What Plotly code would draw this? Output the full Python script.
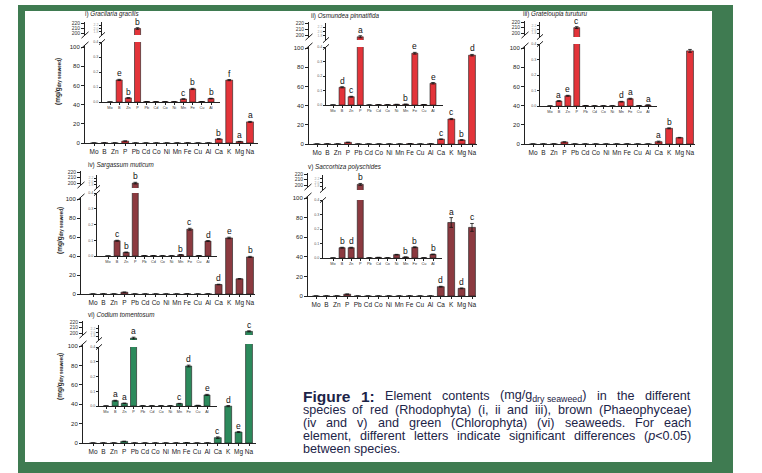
import plotly.graph_objects as go

W, H = 762, 473

# ---------------- data ----------------
elements = ["Mo", "B", "Zn", "P", "Pb", "Cd", "Co", "Ni", "Mn", "Fe", "Cu", "Al", "Ca", "K", "Mg", "Na"]
N_INSET = 12  # inset shows the first 12 elements

numerals = ["i)", "ii)", "iii)", "iv)", "v)", "vi)"]
species = ["Gracilaria gracilis", "Osmundea pinnatifida", "Grateloupia turuturu",
           "Sargassum muticum", "Saccorhiza polyschides", "Codium tomentosum"]

gracilaria = [0, 0.147, 0.027, 2.0, 0.003, 0.002, 0.002, 0.002, 0.020, 0.087, 0.003, 0.023, 4.2, 65.5, 1.5, 22.0]
gracilaria_err = [0, 0.004, 0.002, 0.05, 0, 0, 0, 0, 0.001, 0.004, 0, 0.002, 0.3, 0.6, 0.2, 0.5]
gracilaria_let = ["", "e", "b", "b", "", "", "", "", "c", "b", "", "b", "b", "f", "a", "a"]

osmundea = [0, 0.122, 0.057, 1.75, 0, 0.002, 0.002, 0.004, 0.005, 0.357, 0.003, 0.150, 5.0, 26.0, 4.2, 92.5]
osmundea_err = [0, 0.004, 0.003, 0.05, 0, 0, 0, 0, 0.001, 0.006, 0, 0.005, 0.3, 0.6, 0.3, 0.8]
osmundea_let = ["", "d", "c", "a", "", "", "", "", "b", "e", "", "e", "c", "c", "b", "d"]

grateloupia = [0, 0.032, 0.066, 2.1, 0.003, 0.001, 0.001, 0.001, 0.028, 0.047, 0.002, 0.006, 2.4, 16.3, 6.6, 97.0]
grateloupia_err = [0, 0.003, 0.003, 0.05, 0, 0, 0, 0, 0.002, 0.003, 0, 0.001, 0.6, 0.5, 0.3, 1.5]
grateloupia_let = ["", "a", "e", "c", "", "", "", "", "d", "a", "", "a", "a", "b", "", ""]

sargassum = [0, 0.097, 0.023, 1.9, 0.002, 0.002, 0.001, 0.001, 0.008, 0.170, 0.002, 0.095, 10.0, 59.0, 16.0, 39.0]
sargassum_err = [0, 0.003, 0.002, 0.05, 0, 0, 0, 0, 0.001, 0.006, 0, 0.003, 0.3, 0.8, 0.3, 0.6]
sargassum_let = ["", "c", "b", "b", "", "", "", "", "b", "c", "", "d", "d", "e", "", "b"]

saccorhiza = [0, 0.071, 0.071, 1.9, 0.001, 0.004, 0.001, 0.023, 0.006, 0.074, 0.001, 0.025, 9.5, 75.0, 7.8, 70.0]
saccorhiza_err = [0, 0.003, 0.003, 0.05, 0, 0, 0, 0.002, 0.001, 0.003, 0, 0.002, 0.4, 5.0, 0.4, 4.0]
saccorhiza_let = ["", "b", "d", "b", "", "", "", "", "b", "b", "", "b", "d", "a", "d", "c"]

codium = [0, 0.036, 0.018, 1.7, 0.001, 0.001, 0.001, 0.001, 0.016, 0.271, 0.004, 0.075, 5.5, 38.0, 11.3, 203.0]
codium_err = [0, 0.003, 0.002, 0.05, 0, 0, 0, 0, 0.002, 0.006, 0, 0.004, 0.8, 0.6, 0.5, 1.0]
codium_let = ["", "a", "a", "a", "", "", "", "", "c", "d", "", "e", "c", "d", "e", "c"]

main_ticks = [0, 20, 40, 60, 80, 100]
main_up_ticks = [200, 210, 220]
inset_ticks = [0.0, 0.1, 0.2, 0.3, 0.4]
inset_up_ticks = [1.8, 2.0, 2.2]
MAIN_LOW_MAX = 100
INSET_LOW_MAX = 0.4
INSET_UP_RANGE = [1.6, 2.4]

caption_lines = [
    [("Figure", "b"), ("1:", "b"), "Element", "contents", ("(mg/g", "sub:dry seaweed", ")"), "in", "the", "different"],
    "species of red (Rhodophyta) (i, ii and iii), brown (Phaeophyceae)".split(" "),
    "(iv and v) and green (Chlorophyta) (vi) seaweeds. For each".split(" "),
    "element, different letters indicate significant differences".split(" ") + [("(", "i:p", "<0.05)")],
    "between species.".split(" "),
]

RED, BROWN, GREEN = "#e3343a", "#8c3a40", "#2c8a5c"
FRAME = "#3f7b51"
TEXTC = "#1c2448"
FONT = "Liberation Sans, Arial, sans-serif"

series = [
    (gracilaria, gracilaria_err, gracilaria_let, RED),
    (osmundea, osmundea_err, osmundea_let, RED),
    (grateloupia, grateloupia_err, grateloupia_let, RED),
    (sargassum, sargassum_err, sargassum_let, BROWN),
    (saccorhiza, saccorhiza_err, saccorhiza_let, BROWN),
    (codium, codium_err, codium_let, GREEN),
]

# ---------------- geometry (pixels) ----------------
geometry = [
    dict(title=(84, 14), ylab=(58, 82),
         main=dict(ax=85, end=258, first=94, last=250, base=143, top=47, p200=33, p220=23),
         inset=dict(ax=102, end=220, first=110, last=211, base=102, top=42, ub=35, ut=22)),
    dict(title=(310, 16), ylab=None,
         main=dict(ax=309, end=477, first=317, last=472, base=144, top=48, p200=35, p220=23),
         inset=dict(ax=326, end=443, first=333, last=433, base=105, top=47, ub=40, ut=23)),
    dict(title=(522, 14), ylab=None,
         main=dict(ax=525, end=695, first=533, last=690, base=144, top=48, p200=33, p220=22),
         inset=dict(ax=540, end=657, first=550, last=648, base=106, top=44, ub=37, ut=22)),
    dict(title=(87, 165), ylab=(60, 231),
         main=dict(ax=81, end=255, first=93, last=250, base=294, top=199, p200=183, p220=172),
         inset=dict(ax=97, end=217, first=108, last=208, base=256, top=193, ub=188, ut=175)),
    dict(title=(307, 167), ylab=None,
         main=dict(ax=308, end=476, first=316, last=472, base=296, top=198, p200=185, p220=174),
         inset=dict(ax=323, end=442, first=333, last=433, base=258, top=200, ub=190, ut=175)),
    dict(title=(87, 315), ylab=(60, 377),
         main=dict(ax=83, end=256, first=93, last=249, base=443, top=346, p200=333, p220=322),
         inset=dict(ax=99, end=217, first=106, last=207, base=406, top=347, ub=340, ut=325)),
]


def fx(px):
    return px / W


def fy(py):
    return 1 - py / H


def axname(prefix, n):
    return prefix + "axis" + ("" if n == 1 else str(n))


def ref(prefix, n):
    return prefix + ("" if n == 1 else str(n))


fig = go.Figure()
layout = {}
shapes = []
annotations = []

# frame (four green bands)
for (x0, x1, y0, y1) in [(18, 733, 5, 11), (18, 733, 462, 473), (18, 25, 5, 473), (712, 733, 5, 473)]:
    shapes.append(dict(type="rect", xref="paper", yref="paper", x0=fx(x0), x1=fx(x1), y0=fy(y1), y1=fy(y0),
                       fillcolor=FRAME, line=dict(width=0), layer="above"))

AXCOL = "#222"


def slash(xp, yp, size=3.5):
    shapes.append(dict(type="line", xref="paper", yref="paper",
                       x0=fx(xp - size), y0=fy(yp + size * 0.9), x1=fx(xp + size), y1=fy(yp - size * 0.9),
                       line=dict(color=AXCOL, width=1)))


for k, ((vals, errs, lets, col), g) in enumerate(zip(series, geometry)):
    xm, xi = 2 * k + 1, 2 * k + 2
    yl, yu, yil, yiu = 4 * k + 1, 4 * k + 2, 4 * k + 3, 4 * k + 4
    m, ins = g["main"], g["inset"]

    # ---- main axes ----
    s = (m["last"] - m["first"]) / (len(elements) - 1)
    lo = -(m["first"] - m["ax"]) / s
    hi = len(elements) - 1 + (m["end"] - m["last"]) / s
    layout[axname("x", xm)] = dict(
        domain=[fx(m["ax"]), fx(m["end"])], range=[lo, hi], type="category",
        categoryorder="array", categoryarray=elements, anchor=ref("y", yl), tickangle=0,
        showline=True, linecolor=AXCOL, linewidth=1, ticks="outside", ticklen=2, tickcolor=AXCOL,
        tickfont=dict(size=6.5, color="#222", family=FONT), showgrid=False, zeroline=False,
        automargin=False, fixedrange=True)
    ppu = (m["base"] - m["top"]) / MAIN_LOW_MAX
    layout[axname("y", yl)] = dict(
        domain=[fy(m["base"]), fy(m["top"] - 2)], range=[0, MAIN_LOW_MAX + 2 / ppu],
        anchor=ref("x", xm), showline=True, linecolor=AXCOL, linewidth=1, ticks="outside",
        ticklen=3, tickcolor=AXCOL, tickvals=main_ticks, tickfont=dict(size=6, color="#222", family=FONT),
        showgrid=False, zeroline=False, automargin=False, fixedrange=True)
    ppu_u = (m["p200"] - m["p220"]) / 20
    layout[axname("y", yu)] = dict(
        domain=[fy(m["p200"] + 2), fy(m["p220"] - 1)],
        range=[200 - 2 / ppu_u, 220 + 1 / ppu_u],
        anchor=ref("x", xm), showline=True, linecolor=AXCOL, linewidth=1, ticks="outside",
        ticklen=3, tickcolor=AXCOL, tickvals=main_up_ticks, tickfont=dict(size=5, color="#333", family=FONT),
        showgrid=False, zeroline=False, automargin=False, fixedrange=True)
    slash(m["ax"], m["top"] - 2)
    slash(m["ax"], m["p200"] + 2)

    # ---- inset axes ----
    si = (ins["last"] - ins["first"]) / (N_INSET - 1)
    loi = -(ins["first"] - ins["ax"]) / si
    hii = N_INSET - 1 + (ins["end"] - ins["last"]) / si
    layout[axname("x", xi)] = dict(
        domain=[fx(ins["ax"]), fx(ins["end"])], range=[loi, hii], type="category",
        categoryorder="array", categoryarray=elements[:N_INSET], anchor=ref("y", yil), tickangle=0,
        showline=True, linecolor=AXCOL, linewidth=1, ticks="outside", ticklen=1.5, tickcolor=AXCOL,
        tickfont=dict(size=3.8, color="#333", family=FONT), showgrid=False, zeroline=False,
        automargin=False, fixedrange=True)
    layout[axname("y", yil)] = dict(
        domain=[fy(ins["base"]), fy(ins["top"])], range=[0, INSET_LOW_MAX],
        anchor=ref("x", xi), showline=True, linecolor=AXCOL, linewidth=1, ticks="outside",
        ticklen=2, tickcolor=AXCOL, tickvals=inset_ticks, tickformat=".1f",
        tickfont=dict(size=3.6, color="#555", family=FONT),
        showgrid=False, zeroline=False, automargin=False, fixedrange=True)
    layout[axname("y", yiu)] = dict(
        domain=[fy(ins["ub"]), fy(ins["ut"])], range=INSET_UP_RANGE,
        anchor=ref("x", xi), showline=True, linecolor=AXCOL, linewidth=1, ticks="outside",
        ticklen=2, tickcolor=AXCOL, tickvals=inset_up_ticks, tickformat=".1f",
        tickfont=dict(size=3.4, color="#999", family=FONT),
        showgrid=False, zeroline=False, automargin=False, fixedrange=True)
    slash(ins["ax"], ins["top"], 3)
    slash(ins["ax"], ins["ub"], 3)

    # ---- bars ----
    bar_style = dict(marker=dict(color=col, line=dict(color="#1a1a1a", width=0.6)), width=0.66,
                     showlegend=False, hoverinfo="skip")
    err_style = dict(type="data", visible=True, thickness=0.8, width=1.8, color="#111")
    for yy in (yl, yu):
        fig.add_trace(go.Bar(x=elements, y=vals, error_y=dict(array=errs, **err_style),
                             xaxis=ref("x", xm), yaxis=ref("y", yy), **bar_style))
    for yy in (yil, yiu):
        fig.add_trace(go.Bar(x=elements[:N_INSET], y=vals[:N_INSET],
                             error_y=dict(array=errs[:N_INSET], **err_style),
                             xaxis=ref("x", xi), yaxis=ref("y", yy), **bar_style))

    # ---- significance letters ----
    for j, L in enumerate(lets):
        if not L:
            continue
        v = vals[j] + errs[j]
        if j < N_INSET:
            yr = yil if vals[j] <= INSET_LOW_MAX else yiu
            xr = xi
        else:
            yr = yl if vals[j] <= MAIN_LOW_MAX else yu
            xr = xm
        annotations.append(dict(x=elements[j], y=v, xref=ref("x", xr), yref=ref("y", yr),
                                text=L, showarrow=False, yanchor="bottom", yshift=-1,
                                font=dict(size=8.5, color="#111", family=FONT)))

    # ---- titles ----
    tx, ty = g["title"]
    annotations.append(dict(x=fx(tx), y=fy(ty), xref="paper", yref="paper", xanchor="left",
                            yanchor="middle", showarrow=False, borderpad=0,
                            text=f"{numerals[k]} <i>{species[k]}</i>",
                            font=dict(size=6.3, color="#222", family=FONT)))
    if g["ylab"]:
        lx, ly = g["ylab"]
        annotations.append(dict(x=fx(lx), y=fy(ly), xref="paper", yref="paper", textangle=-90,
                                showarrow=False, xanchor="center", yanchor="middle",
                                text="<b>(mg/g<sub>dry seaweed</sub>)</b>",
                                font=dict(size=6.5, color="#222", family=FONT)))

# ---------------- caption (justified, using Arial-compatible metrics) ----------------
REG = {" ": 278, "(": 333, ")": 333, ",": 278, ".": 278, ":": 278, "/": 278, "<": 584,
       "a": 556, "b": 556, "c": 500, "d": 556, "e": 556, "f": 278, "g": 556, "h": 556, "i": 222,
       "j": 222, "k": 500, "l": 222, "m": 833, "n": 556, "o": 556, "p": 556, "q": 556, "r": 333,
       "s": 500, "t": 278, "u": 556, "v": 500, "w": 722, "x": 500, "y": 500, "z": 500,
       "C": 722, "E": 667, "F": 611, "P": 667, "R": 722}
BOLD = {"F": 611, "i": 278, "g": 611, "u": 611, "r": 389, "e": 556, "1": 556, ":": 333, " ": 278}
CAP_SIZE = 12.6
BOLD_SIZE = 15.5
CAP_X0, CAP_X1 = 302, 690
caption_y = [396, 410, 423, 436, 449]


def tw(text, size, table=REG):
    return sum(table.get(ch, 556) for ch in text) * size / 1000


def token(tok):
    """return (html, width)"""
    if isinstance(tok, str):
        return tok.replace("<", "&lt;"), tw(tok, CAP_SIZE)
    if len(tok) == 2 and tok[1] == "b":
        return f"<b>{tok[0]}</b>", tw(tok[0], BOLD_SIZE, BOLD)
    html, w = "", 0.0
    for part in tok:
        if part.startswith("sub:"):
            t = part[4:]
            html += f"<sub>{t}</sub>"
            w += tw(t, CAP_SIZE * 0.7)
        elif part.startswith("i:"):
            t = part[2:]
            html += f"<i>{t}</i>"
            w += tw(t, CAP_SIZE)
        else:
            html += part.replace("<", "&lt;")
            w += tw(part, CAP_SIZE)
    return html, w


for li, (words, cy) in enumerate(zip(caption_lines, caption_y)):
    toks = [token(t) for t in words]
    total = sum(w for _, w in toks)
    justify = li < len(caption_lines) - 1 and len(toks) > 1
    gap = (CAP_X1 - CAP_X0 - total) / (len(toks) - 1) if justify else tw(" ", CAP_SIZE)
    x = CAP_X0
    for html, w in toks:
        annotations.append(dict(x=fx(x), y=fy(cy), xref="paper", yref="paper", xanchor="left",
                                yanchor="middle", showarrow=False, text=html, borderpad=0,
                                font=dict(size=BOLD_SIZE if html.startswith("<b>") else CAP_SIZE,
                                          color=TEXTC, family=FONT)))
        x += w + gap

fig.update_layout(
    width=W, height=H, margin=dict(l=0, r=0, t=0, b=0, pad=0),
    template="none", paper_bgcolor="white", plot_bgcolor="rgba(0,0,0,0)",
    barmode="group", bargap=0.34, showlegend=False,
    shapes=shapes, annotations=annotations, font=dict(family=FONT),
    **layout)

fig.write_html("out.html", config={"displayModeBar": False},
               post_script="document.body.style.margin='0';document.body.style.overflow='hidden';")
